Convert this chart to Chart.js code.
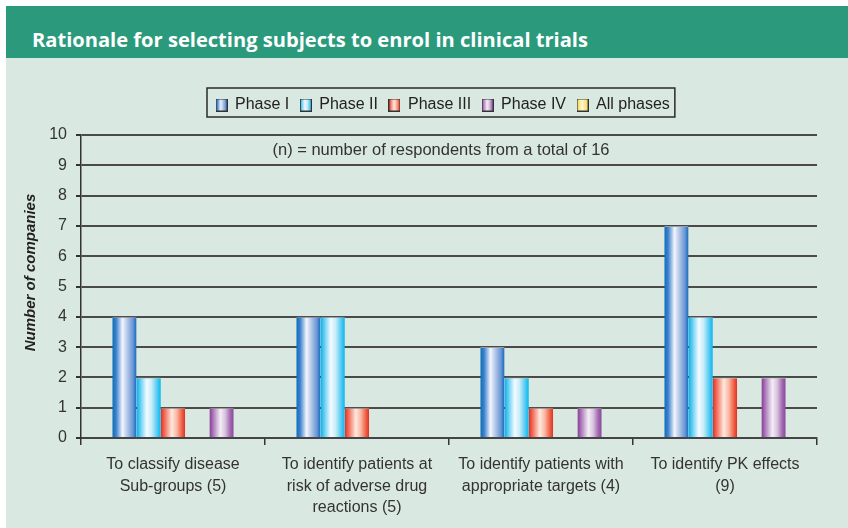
<!DOCTYPE html>
<html>
<head>
<meta charset="utf-8">
<script src="https://cdn.jsdelivr.net/npm/chart.js@4.4.1/dist/chart.umd.min.js"></script>
<style>
  html, body { margin: 0; padding: 0; background: #fff; }
  body { width: 848px; height: 528px; position: relative; overflow: hidden; }
  .header { position: absolute; left: 6px; top: 6px; width: 842px; height: 52px; background: #2b9a7c; }
  .header span { position: absolute; left: 26px; top: 20px; color: #fff; font: 700 20px 'Open Sans', sans-serif; line-height: normal; white-space: nowrap; transform-origin: 0 0; }
  .panel { position: absolute; left: 6px; top: 58px; width: 842px; height: 470px; background: #dae8e2; }
  canvas { display: block; }
</style>
</head>
<body>
<div class="header"><span id="title">Rationale for selecting subjects to enrol in clinical trials</span></div>
<div class="panel"><canvas id="chart" width="842" height="470"></canvas></div>
<script>
// --- DATA --- //
const categories = [
  ['To classify disease', 'Sub-groups (5)'],
  ['To identify patients at', 'risk of adverse drug', 'reactions (5)'],
  ['To identify patients with', 'appropriate targets (4)'],
  ['To identify PK effects', '(9)']
];
const phaseI = [4, 4, 3, 7];
const phaseII = [2, 4, 2, 4];
const phaseIII = [1, 1, 1, 2];
const phaseIV = [1, 0, 1, 2];
const allPhases = [0, 0, 0, 0];
const yTicks = [0, 1, 2, 3, 4, 5, 6, 7, 8, 9, 10];
const legendOrder = ['Phase I', 'Phase II', 'Phase III', 'Phase IV', 'All phases'];
const yTitle = 'Number of companies';
const note = '(n) = number of respondents from a total of 16';

// --- TITLE WIDTH (condensed look) --- //
const titleEl = document.getElementById('title');
titleEl.style.transform = `scaleX(${556 / titleEl.getBoundingClientRect().width})`;

// --- CYLINDER GRADIENTS --- //
const stops = {
  'Phase I': [[0, '#0a6cbc'], [0.16, '#3f82cc'], [0.42, '#f2f5fc'], [0.62, '#b0c7e8'], [0.85, '#6a96d5'], [1, '#106cbe']],
  'Phase II': [[0, '#00b2ec'], [0.18, '#6fd2f4'], [0.42, '#f3fbff'], [0.62, '#c8ecfa'], [0.85, '#52c9f1'], [1, '#04b8ee']],
  'Phase III': [[0, '#ec2a1e'], [0.18, '#f47561'], [0.45, '#fee9df'], [0.65, '#f9b9a5'], [0.85, '#f2664d'], [1, '#e42e1c']],
  'Phase IV': [[0, '#853894'], [0.18, '#b282bd'], [0.45, '#f4edf6'], [0.65, '#d8c3de'], [0.85, '#a36bb1'], [1, '#87469a']],
  'All phases': [[0, '#f0cf3c'], [0.45, '#fff9d6'], [1, '#f2d24a']]
};

function swatch(label) {
  const c = document.createElement('canvas');
  c.width = 12; c.height = 13;
  const g = c.getContext('2d');
  const gr = g.createLinearGradient(0, 0, 12, 0);
  stops[label].forEach(([p, col]) => gr.addColorStop(p, col));
  g.fillStyle = gr;
  g.fillRect(0, 0, 12, 13);
  g.strokeStyle = '#333';
  g.lineWidth = 1;
  g.strokeRect(0.5, 0.5, 11, 12);
  return c;
}

function dataset(label, data) {
  return {
    label,
    data,
    backgroundColor: stops[label][0][1],
    borderColor: '#9c9c9c',
    borderWidth: { top: 1, left: 0, right: 0, bottom: 0 },
    borderSkipped: 'start',
    pointStyle: swatch(label),
    categoryPercentage: 0.66,
    barPercentage: 1.0
  };
}

// --- PLUGINS --- //
const barGradients = {
  id: 'barGradients',
  beforeDatasetsDraw(chart) {
    const ctx = chart.ctx;
    chart.data.datasets.forEach((ds, i) => {
      chart.getDatasetMeta(i).data.forEach(bar => {
        const left = bar.x - bar.width / 2;
        const g = ctx.createLinearGradient(left, 0, left + bar.width, 0);
        stops[ds.label].forEach(([p, col]) => g.addColorStop(p, col));
        bar.options = Object.assign({}, bar.options, { backgroundColor: g });
      });
    });
  }
};

const legendFrame = {
  id: 'legendFrame',
  afterUpdate(chart) {
    const lg = chart.legend;
    const hb = lg.legendHitBoxes;
    const dx = 210 - hb[0].left;
    const dy = 28 - lg.top;
    lg.left += dx; lg.right += dx; lg.top += dy; lg.bottom += dy;
    hb.forEach(h => { h.left += dx; h.top += dy; });
  },
  afterDraw(chart) {
    const hb = chart.legend.legendHitBoxes;
    const ctx = chart.ctx;
    const last = hb[hb.length - 1];
    const x0 = hb[0].left - 9, x1 = last.left + last.width + 5;
    const y0 = hb[0].top - 9, y1 = hb[0].top + 20;
    ctx.save();
    ctx.strokeStyle = '#2a2a2a';
    ctx.lineWidth = 1.5;
    ctx.strokeRect(x0, y0, x1 - x0, y1 - y0);
    ctx.restore();
  }
};

const extraText = {
  id: 'extraText',
  afterDatasetsDraw(chart) {
    const { ctx, chartArea } = chart;
    ctx.save();
    ctx.fillStyle = '#333';
    ctx.textAlign = 'center';
    ctx.textBaseline = 'middle';
    ctx.font = '16.5px "Liberation Sans", Arial, sans-serif';
    ctx.fillText(note, (chartArea.left + chartArea.right) / 2 - 8, chartArea.top + 15);
    // y axis title, sits a little above the axis middle
    ctx.translate(25, (chartArea.top + chartArea.bottom) / 2 - 14);
    ctx.rotate(-Math.PI / 2);
    ctx.fillStyle = '#222';
    ctx.font = 'italic bold 15px "Liberation Sans", Arial, sans-serif';
    ctx.fillText(yTitle, 0, 0);
    ctx.restore();
  }
};

// --- CHART --- //
Chart.defaults.font.family = "'Liberation Sans', Arial, sans-serif";
Chart.defaults.color = '#333';

new Chart(document.getElementById('chart'), {
  type: 'bar',
  data: {
    labels: categories,
    datasets: [
      dataset('Phase I', phaseI),
      dataset('Phase II', phaseII),
      dataset('Phase III', phaseIII),
      dataset('All phases', allPhases),
      dataset('Phase IV', phaseIV)
    ]
  },
  options: {
    responsive: false,
    animation: false,
    layout: { padding: { left: 0, right: 31, top: 40, bottom: 0 } },
    plugins: {
      tooltip: { enabled: false },
      legend: {
        position: 'top',
        labels: {
          usePointStyle: true,
          boxWidth: 11,
          boxHeight: 12,
          padding: 11,
          color: '#222',
          font: { size: 16 },
          sort: (a, b) => legendOrder.indexOf(a.text) - legendOrder.indexOf(b.text)
        }
      }
    },
    scales: {
      x: {
        afterFit: scale => { scale.height = 90; },
        grid: { offset: true, drawOnChartArea: false, drawTicks: true, tickLength: 7, color: '#333', lineWidth: 1.5 },
        border: { color: '#444', width: 2 },
        ticks: { color: '#333', font: { size: 16, lineHeight: 1.35 }, padding: 9, maxRotation: 0, autoSkip: false }
      },
      y: {
        min: yTicks[0],
        max: yTicks[yTicks.length - 1],
        afterFit: scale => { scale.width = 75; },
        afterBuildTicks: scale => { scale.ticks = yTicks.map(v => ({ value: v })); },
        grid: { color: '#4a4a4a', lineWidth: 2, tickLength: 5, tickColor: '#333' },
        border: { color: '#333', width: 1.5 },
        ticks: { color: '#333', font: { size: 16 }, padding: 9 }
      }
    }
  },
  plugins: [barGradients, legendFrame, extraText]
});
</script>
</body>
</html>
